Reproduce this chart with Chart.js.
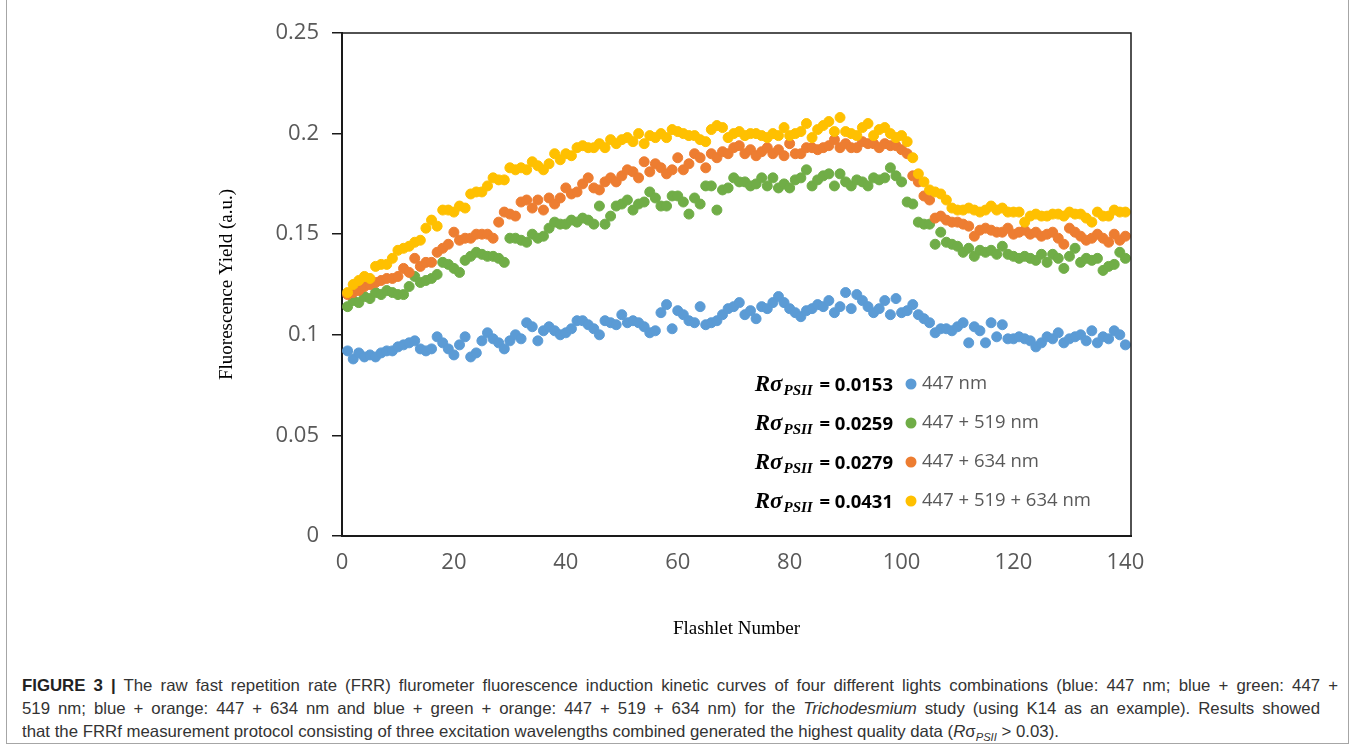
<!DOCTYPE html>
<html>
<head>
<meta charset="utf-8">
<script src="https://cdn.jsdelivr.net/npm/chart.js@4.4.1/dist/chart.umd.min.js"></script>
<style>
  html, body { margin: 0; padding: 0; background: #fff; }
  body { width: 1357px; height: 750px; position: relative; overflow: hidden; }
  #frame { position: absolute; left: 6px; top: -2px; width: 1343px; height: 746px; border: 1px solid #a6a6a6; box-sizing: border-box; }
  #wrap { position: absolute; left: 0; top: 0; width: 1357px; height: 650px; }
  #caption { position: absolute; left: 22px; top: 674px; width: 1330px; font-family: "Liberation Sans", Arial, sans-serif; font-size: 16.5px; color: #333; line-height: 23px; }
  #caption .ln { display: block; height: 23px; }
  #caption .ln span.t { display: inline-block; white-space: nowrap; transform-origin: 0 50%; }
  #caption b { color: #222; }
</style>
</head>
<body>
<div id="frame"></div>
<div id="wrap"><canvas id="c" width="1357" height="650"></canvas></div>
<div id="caption">
  <div class="ln" data-w="1316" data-j="1"><span class="t"><b>FIGURE 3 |</b> The raw fast repetition rate (FRR) flurometer fluorescence induction kinetic curves of four different lights combinations (blue: 447 nm; blue + green: 447 +</span></div>
  <div class="ln" data-w="1298" data-j="1"><span class="t">519 nm; blue + orange: 447 + 634 nm and blue + green + orange: 447 + 519 + 634 nm) for the <i>Trichodesmium</i> study (using K14 as an example). Results showed</span></div>
  <div class="ln" data-w="961" data-j="0"><span class="t">that the FRRf measurement protocol consisting of three excitation wavelengths combined generated the highest quality data (<i>R</i>σ<sub style="font-size:11px"><i>PSII</i></sub> &gt; 0.03).</span></div>
</div>
<script>
// ---- Data ----
const flashlets = Array.from({length: 140}, (_, i) => i + 1);

const seriesLabels = ["447 nm", "447 + 519 nm", "447 + 634 nm", "447 + 519 + 634 nm"];
const rSigma = ["0.0153", "0.0259", "0.0279", "0.0431"];

const blue447 = [
  .092,.088,.091,.089,.090,.089,.091,.092,.092,.094,
  .095,.096,.097,.093,.092,.093,.099,.096,.093,.090,
  .095,.099,.089,.091,.097,.101,.098,.096,.093,.097,
  .100,.098,.106,.104,.097,.102,.104,.102,.100,.101,
  .103,.107,.107,.105,.103,.100,.107,.106,.105,.110,
  .106,.107,.106,.104,.101,.102,.111,.115,.103,.112,
  .110,.107,.106,.114,.105,.106,.107,.110,.113,.114,
  .116,.110,.112,.108,.114,.113,.116,.119,.116,.113,
  .111,.109,.112,.113,.115,.114,.117,.111,.114,.121,
  .113,.120,.117,.114,.111,.113,.117,.110,.118,.111,
  .112,.115,.110,.108,.106,.101,.103,.103,.102,.104,
  .106,.096,.104,.102,.096,.106,.099,.105,.098,.098,
  .099,.098,.097,.094,.096,.099,.098,.101,.096,.098,
  .099,.100,.097,.102,.096,.099,.098,.102,.100,.095
];

const green447_519 = [
  .114,.117,.116,.119,.118,.121,.120,.122,.121,.120,
  .120,.124,.129,.126,.127,.128,.130,.136,.135,.133,
  .131,.137,.139,.141,.140,.139,.139,.138,.136,.148,
  .148,.147,.146,.150,.148,.149,.153,.156,.155,.155,
  .157,.156,.158,.157,.155,.164,.155,.159,.164,.165,
  .167,.162,.165,.166,.171,.168,.164,.164,.169,.169,
  .166,.160,.168,.165,.174,.174,.162,.172,.173,.178,
  .176,.176,.174,.175,.178,.174,.178,.173,.175,.173,
  .177,.178,.182,.174,.177,.179,.180,.174,.180,.176,
  .174,.177,.176,.174,.178,.177,.178,.183,.179,.176,
  .166,.165,.156,.155,.155,.145,.151,.146,.145,.144,
  .141,.143,.139,.142,.141,.142,.140,.144,.140,.139,
  .138,.139,.138,.137,.140,.136,.140,.138,.133,.139,
  .143,.136,.138,.137,.138,.132,.134,.135,.141,.138
];

const orange447_634 = [
  .120,.121,.122,.124,.125,.126,.127,.128,.128,.129,
  .133,.131,.138,.134,.136,.136,.141,.143,.145,.151,
  .147,.148,.148,.150,.150,.150,.148,.156,.161,.160,
  .159,.166,.167,.163,.167,.162,.168,.165,.168,.173,
  .170,.171,.175,.178,.173,.172,.176,.178,.176,.179,
  .182,.181,.178,.186,.181,.185,.183,.180,.182,.188,
  .182,.185,.190,.188,.183,.190,.188,.191,.190,.193,
  .194,.190,.192,.189,.191,.193,.190,.192,.189,.195,
  .190,.190,.193,.193,.192,.193,.194,.197,.193,.195,
  .193,.193,.196,.195,.195,.193,.195,.194,.194,.192,
  .190,.179,.176,.169,.167,.158,.159,.157,.156,.156,
  .155,.154,.149,.152,.153,.152,.151,.151,.153,.150,
  .151,.152,.150,.151,.149,.150,.151,.148,.145,.153,
  .151,.149,.147,.148,.150,.148,.146,.150,.147,.149
];

const yellow447_519_634 = [
  .121,.125,.127,.129,.128,.134,.135,.135,.138,.142,
  .143,.144,.146,.147,.153,.157,.154,.162,.162,.161,
  .164,.163,.170,.171,.171,.174,.178,.177,.177,.183,
  .182,.183,.182,.186,.184,.182,.185,.190,.187,.190,
  .189,.193,.194,.193,.193,.195,.193,.197,.195,.197,
  .198,.196,.200,.195,.199,.198,.200,.198,.202,.201,
  .200,.199,.199,.197,.196,.202,.204,.203,.198,.200,
  .201,.199,.200,.200,.199,.198,.200,.199,.203,.199,
  .200,.201,.205,.198,.202,.204,.206,.201,.208,.201,
  .200,.199,.203,.205,.199,.202,.203,.200,.198,.199,
  .196,.188,.180,.176,.172,.171,.170,.167,.163,.162,
  .162,.163,.162,.161,.162,.164,.162,.163,.161,.161,
  .161,.156,.159,.160,.159,.159,.160,.160,.159,.161,
  .160,.160,.158,.156,.161,.159,.159,.162,.161,.161
];

const xTicks = [0, 20, 40, 60, 80, 100, 120, 140];
const yTicks = [0, 0.05, 0.1, 0.15, 0.2, 0.25];
const yTickLabels = ["0", "0.05", "0.1", "0.15", "0.2", "0.25"];

const colors = ["#5B9BD5", "#70AD47", "#ED7D31", "#FFC000"];
const seriesValues = [blue447, green447_519, orange447_634, yellow447_519_634];

function toPoints(vals) { return vals.map((v, i) => ({x: flashlets[i], y: v})); }

const datasets = seriesValues.map((vals, k) => ({
  label: seriesLabels[k],
  data: toPoints(vals),
  backgroundColor: colors[k],
  borderColor: colors[k],
  borderWidth: 1,
  pointRadius: 5,
  pointHoverRadius: 5,
  order: 4 - k
}));

const frameAndLegend = {
  id: 'frameAndLegend',
  afterDatasetsDraw(chart) {
    const ctx = chart.ctx, a = chart.chartArea;
    ctx.save();
    ctx.strokeStyle = '#1a1a1a';
    ctx.lineWidth = 1.5;
    ctx.beginPath();
    ctx.moveTo(a.left, a.top);
    ctx.lineTo(a.right, a.top);
    ctx.lineTo(a.right, a.bottom);
    ctx.stroke();
    const mx = a.left + 569;
    for (let i = 0; i < 4; i++) {
      const cy = a.top + 351 + i * 39;
      ctx.fillStyle = colors[i];
      ctx.beginPath();
      ctx.arc(mx, cy, 5.5, 0, Math.PI * 2);
      ctx.fill();
      ctx.fillStyle = '#595959';
      ctx.font = '18.5px "Open Sans"';
      ctx.textBaseline = 'middle';
      ctx.textAlign = 'left';
      ctx.fillText(seriesLabels[i], mx + 11, cy);
      const f1 = 'bold italic 23px "Liberation Serif"';
      const f2 = 'bold italic 15px "Liberation Serif"';
      const f3 = 'bold 18.5px "Open Sans"';
      ctx.font = f1; const w1 = ctx.measureText('Rσ').width + 1;
      ctx.font = f2; const w2 = ctx.measureText('PSII').width + 2;
      const t3 = ' = ' + rSigma[i];
      ctx.font = f3; const w3 = ctx.measureText(t3).width;
      let x = mx - 18 - (w1 + w2 + w3);
      ctx.fillStyle = '#000';
      ctx.textBaseline = 'alphabetic';
      const base = cy + 7;
      ctx.font = f1; ctx.fillText('Rσ', x, base); x += w1;
      ctx.font = f2; ctx.fillText('PSII', x, base + 4); x += w2;
      ctx.font = f3; ctx.fillText(t3, x, base);
    }
    ctx.restore();
  }
};

new Chart(document.getElementById('c'), {
  type: 'scatter',
  data: { datasets },
  options: {
    responsive: false,
    animation: false,
    events: [],
    layout: { padding: { left: 216, right: 226, top: 33, bottom: 0 } },
    plugins: { legend: { display: false }, tooltip: { enabled: false } },
    scales: {
      x: {
        type: 'linear', min: 0, max: 141,
        afterFit(s) { s.height = 114; },
        afterBuildTicks(s) { s.ticks = xTicks.map(v => ({value: v})); },
        border: { display: true, color: '#1a1a1a', width: 2 },
        grid: { display: false, drawTicks: false },
        ticks: { font: { family: 'Open Sans', size: 22 }, color: '#595959', padding: 14 },
        title: { display: true, text: 'Flashlet Number', font: { family: 'Liberation Serif', size: 19 }, color: '#000', padding: { top: 0, bottom: 10 } }
      },
      y: {
        type: 'linear', min: 0, max: 0.25,
        afterFit(s) { s.width = 126; },
        afterBuildTicks(s) { s.ticks = yTicks.map(v => ({value: v})); },
        border: { display: true, color: '#1a1a1a', width: 2 },
        grid: { display: true, drawOnChartArea: false, drawTicks: true, tickLength: 10, color: '#1a1a1a', lineWidth: 1.5 },
        ticks: { font: { family: 'Open Sans', size: 22 }, color: '#595959', padding: 13,
                 callback: (v) => { const i = yTicks.indexOf(v); return i >= 0 ? yTickLabels[i] : ''; } },
        title: { display: true, text: 'Fluorescence Yield (a.u.)', font: { family: 'Liberation Serif', size: 19 }, color: '#000', padding: 0 }
      }
    }
  },
  plugins: [frameAndLegend]
});

// caption: one common horizontal scale, justified lines get extra word spacing
(function () {
  const lines = Array.from(document.querySelectorAll('#caption .ln'));
  const widths = lines.map(ln => ln.querySelector('span.t').getBoundingClientRect().width);
  const s1 = parseFloat(lines[0].dataset.w) / widths[0];
  const s3 = parseFloat(lines[2].dataset.w) / widths[2];
  const s = 0.5 * (s1 + s3);
  lines.forEach((ln, i) => {
    const t = ln.querySelector('span.t');
    if (ln.dataset.j === '1') {
      const spaces = (t.textContent.match(/ /g) || []).length;
      const need = Math.max(0, parseFloat(ln.dataset.w) / s - widths[i]);
      t.style.wordSpacing = (need / spaces).toFixed(3) + 'px';
    }
    t.style.transform = 'scaleX(' + s.toFixed(4) + ')';
  });
})();
</script>
</body>
</html>
